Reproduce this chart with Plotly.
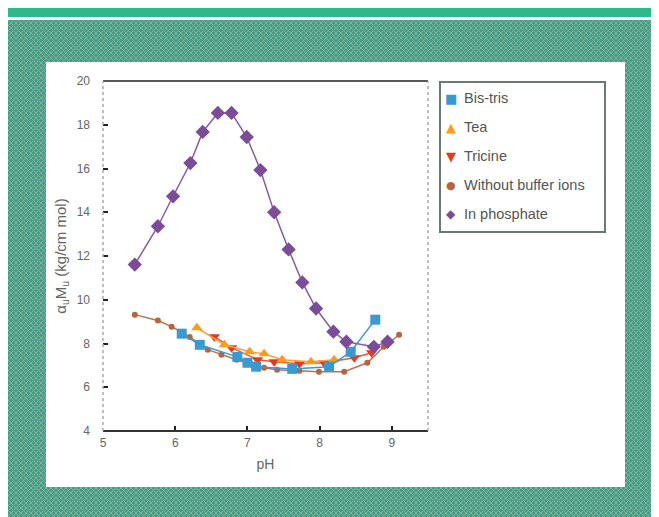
import base64
import struct
import zlib

import plotly.graph_objects as go

# ---------------- data ----------------
ph_bistris = [6.09, 6.34, 6.86, 7.00, 7.12, 7.62, 8.13, 8.43, 8.77]
val_bistris = [8.45, 7.94, 7.39, 7.12, 6.94, 6.84, 6.94, 7.62, 9.09]

ph_tea = [6.30, 6.68, 7.03, 7.23, 7.48, 7.88, 8.20]
val_tea = [8.72, 7.94, 7.62, 7.53, 7.26, 7.17, 7.26]

ph_tricine = [6.54, 6.78, 7.14, 7.37, 7.72, 8.06, 8.48, 8.72]
val_tricine = [8.31, 7.81, 7.26, 7.17, 7.07, 7.12, 7.35, 7.58]

ph_nobuffer = [5.44, 5.76, 5.95, 6.20, 6.45, 6.64, 6.85, 7.07, 7.23, 7.41,
               7.72, 7.99, 8.34, 8.66, 8.89, 9.10]
val_nobuffer = [9.32, 9.05, 8.77, 8.30, 7.72, 7.49, 7.26, 7.03, 6.89, 6.80,
                6.75, 6.71, 6.71, 7.12, 7.85, 8.40]

ph_phosphate = [5.44, 5.76, 5.97, 6.21, 6.38, 6.59, 6.78, 6.99, 7.18, 7.37,
                7.57, 7.76, 7.95, 8.19, 8.37, 8.75, 8.94]
val_phosphate = [11.61, 13.36, 14.73, 16.25, 17.67, 18.54, 18.54, 17.44, 15.93,
                 14.00, 12.30, 10.79, 9.60, 8.54, 8.08, 7.85, 8.08]

series_names = ["Bis-tris", "Tea", "Tricine", "Without buffer ions", "In phosphate"]
x_ticks = [5, 6, 7, 8, 9]
y_ticks = [4, 6, 8, 10, 12, 14, 16, 18, 20]

# ---------------- styles ----------------
styles = [
    dict(color="#3a9ad0", symbol="square", size=10, line="#3a9ad0", glyph="■", gsize=13),
    dict(color="#ff9a1e", symbol="triangle-up", size=10, line="#ffa040", glyph="▲", gsize=13),
    dict(color="#e63a1e", symbol="triangle-down", size=10, line="#e85a3a", glyph="▼", gsize=13),
    dict(color="#b5653f", symbol="circle", size=6, line="#c07050", glyph="●", gsize=11),
    dict(color="#7b4c97", symbol="diamond", size=11, line="#8a5aa8", glyph="◆", gsize=12),
]
xs = [ph_bistris, ph_tea, ph_tricine, ph_nobuffer, ph_phosphate]
ys = [val_bistris, val_tea, val_tricine, val_nobuffer, val_phosphate]

W, H = 651, 509
L, R, T, B = 95, 420, 73, 423  # plot area in pixels


def px(xp):
    return (xp - L) / (R - L)


def py(yp):
    return (B - yp) / (B - T)


# ---------------- textured teal background tile (decoration) ----------------
def make_texture(w, h):
    base = (74, 154, 134)
    light = (118, 182, 154)
    rows = []
    for y in range(h):
        row = bytearray([0])
        for x in range(w):
            c = light if ((x + y) % 5 == 0 or (x - y) % 5 == 0) else base
            row += bytes(c)
        rows.append(bytes(row))
    raw = b"".join(rows)

    def chunk(tag, data):
        c = struct.pack(">I", len(data)) + tag + data
        return c + struct.pack(">I", zlib.crc32(tag + data) & 0xffffffff)

    png = b"\x89PNG\r\n\x1a\n"
    png += chunk(b"IHDR", struct.pack(">IIBBBBB", w, h, 8, 2, 0, 0, 0))
    png += chunk(b"IDAT", zlib.compress(raw, 9))
    png += chunk(b"IEND", b"")
    return "data:image/png;base64," + base64.b64encode(png).decode()


tex_w, tex_h = W, H - 12
texture = make_texture(tex_w, tex_h)

fig = go.Figure()
draw_order = [3, 2, 1, 0, 4]
for i in draw_order:
    s = styles[i]
    fig.add_trace(go.Scatter(
        x=xs[i], y=ys[i], mode="lines+markers", showlegend=False,
        line=dict(color=s["line"], width=1.5),
        marker=dict(color=s["color"], symbol=s["symbol"], size=s["size"]),
        name=series_names[i]))

shapes = [
    # green top stripe
    dict(type="rect", xref="paper", yref="paper", x0=px(0), x1=px(W), y0=py(9), y1=py(0),
         fillcolor="#2eb98b", line=dict(width=0), layer="below"),
    # white panel
    dict(type="rect", xref="paper", yref="paper", x0=px(38), x1=px(617), y0=py(479), y1=py(54),
         fillcolor="white", line=dict(width=0), layer="below"),
    # axis frame
    dict(type="line", xref="paper", yref="paper", x0=0, x1=1, y0=1, y1=1,
         line=dict(color="#222", width=1.5), layer="above"),
    dict(type="line", xref="paper", yref="paper", x0=0, x1=1, y0=0, y1=0,
         line=dict(color="#333", width=2), layer="above"),
    dict(type="line", xref="paper", yref="paper", x0=0, x1=0, y0=0, y1=1,
         line=dict(color="#aaa", width=1.5, dash="dot"), layer="above"),
    dict(type="line", xref="paper", yref="paper", x0=1, x1=1, y0=0, y1=1,
         line=dict(color="#aaa", width=1.5, dash="dot"), layer="above"),
    # legend box
    dict(type="rect", xref="paper", yref="paper", x0=px(432), x1=px(597), y0=py(224), y1=py(74),
         fillcolor="white", line=dict(color="#6a7a72", width=2), layer="above"),
]

# legend entries (glyph + label), drawn as text
legend_rows = [90, 119, 148, 177, 206]
annotations = []
for i, name in enumerate(series_names):
    s = styles[i]
    annotations.append(dict(
        xref="paper", yref="paper", x=px(443), y=py(legend_rows[i]),
        xanchor="center", yanchor="middle", showarrow=False,
        text=s["glyph"], font=dict(family="DejaVu Sans", size=s["gsize"], color=s["color"])))
    annotations.append(dict(
        xref="paper", yref="paper", x=px(454), y=py(legend_rows[i]),
        xanchor="left", yanchor="middle", showarrow=False,
        text=name, font=dict(size=14.5, color="#555")))

fig.update_layout(
    width=W, height=H,
    margin=dict(l=L, r=W - R, t=T, b=H - B),
    paper_bgcolor="white", plot_bgcolor="white",
    font=dict(family="Liberation Sans, Arial, sans-serif", size=12, color="#666"),
    shapes=shapes,
    annotations=annotations,
    images=[dict(source=texture, xref="paper", yref="paper",
                 x=px(0), y=py(12), sizex=px(W) - px(0), sizey=py(12) - py(H),
                 sizing="stretch", xanchor="left", yanchor="top", layer="below")],
    showlegend=False,
    xaxis=dict(range=[5, 9.5], tickvals=x_ticks, ticktext=[str(v) for v in x_ticks],
               ticks="inside", ticklen=5, tickwidth=1.5, tickcolor="#222",
               ticklabelstandoff=3,
               showgrid=False, zeroline=False, showline=False,
               title=dict(text="pH", standoff=10, font=dict(size=14, color="#666"))),
    yaxis=dict(range=[4, 20], tickvals=y_ticks, ticktext=[str(v) for v in y_ticks],
               ticks="inside", ticklen=5, tickwidth=1.5, tickcolor="#222",
               ticklabelstandoff=12,
               showgrid=False, zeroline=False, showline=False,
               title=dict(text="α<sub>u</sub>M<sub>u</sub> (kg/cm mol)", standoff=6,
                          font=dict(size=15, color="#666"))),
)

fig.write_html("out.html")
